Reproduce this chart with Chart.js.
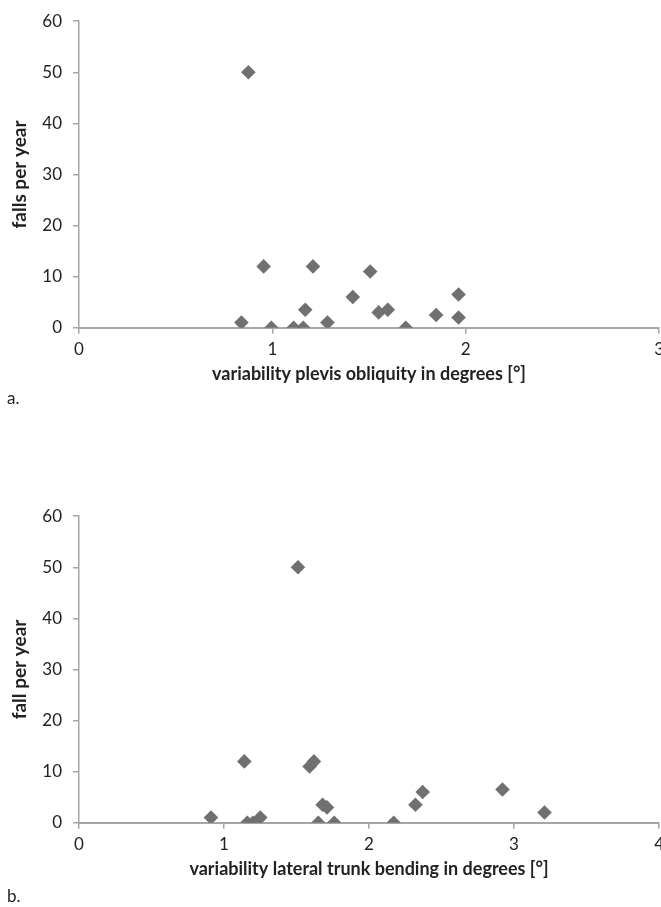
<!DOCTYPE html>
<html>
<head>
<meta charset="utf-8">
<script src="https://cdn.jsdelivr.net/npm/chart.js@4.4.0/dist/chart.umd.min.js"></script>
<style>
  html, body { margin: 0; padding: 0; background: #fff; overflow: hidden; }
  body { width: 661px; height: 907px; position: relative; }
  .box { position: absolute; left: 0; width: 670px; height: 395px; }
  .tag { position: absolute; left: 7px; font: 17px Lato, "Open Sans", sans-serif; color: #222; }
</style>
</head>
<body>
<div class="box" style="top:0"><canvas id="chart-a" width="670" height="395"></canvas></div>
<div class="tag" style="top:387px">a.</div>
<div class="box" style="top:495px"><canvas id="chart-b" width="670" height="395"></canvas></div>
<div class="tag" style="top:885px">b.</div>
<script>
// a. 骨盆倾斜
const pelvisX = [0.876, 0.955, 0.84, 0.995, 1.11, 1.16, 1.17, 1.21, 1.285, 1.416, 1.506, 1.55, 1.597, 1.69, 1.847, 1.963, 1.963];
const pelvisY = [50, 12, 1, 0, 0, 0, 3.5, 12, 1, 6, 11, 3, 3.5, 0, 2.5, 2, 6.5];

// b. 躯干侧弯
const trunkX = [0.91, 1.14, 1.16, 1.2, 1.25, 1.51, 1.59, 1.62, 1.65, 1.68, 1.71, 1.76, 2.17, 2.32, 2.37, 2.92, 3.21];
const trunkY = [1, 12, 0, 0, 1, 50, 11, 12, 0, 3.5, 3, 0, 0, 3.5, 6, 6.5, 2];

// 坐标轴刻度
const yTicks = [0, 10, 20, 30, 40, 50, 60];
const xMaxA = 3;
const xMaxB = 4;

const axisColor = '#a6a6a6';
const textColor = '#222';
const markColor = '#707070';

function toPoints(xs, ys) {
  return xs.map((x, i) => ({ x: x, y: ys[i] }));
}

function drawScatter(id, points, xMax, xTitle, yTitle) {
  const ctx = document.getElementById(id).getContext('2d');
  return new Chart(ctx, {
    type: 'scatter',
    data: {
      datasets: [{
        data: points,
        pointStyle: 'rectRot',
        pointRadius: 7.3,
        pointHoverRadius: 7.3,
        backgroundColor: markColor,
        borderWidth: 0
      }]
    },
    options: {
      responsive: false,
      animation: false,
      layout: { padding: { top: 20, right: 5, left: 0, bottom: 0 } },
      plugins: { legend: { display: false }, tooltip: { enabled: false } },
      scales: {
        x: {
          type: 'linear',
          min: 0,
          max: xMax,
          afterFit: scale => { scale.height = 67.3; },
          ticks: { stepSize: 1, padding: 6, color: textColor, font: { family: 'Lato', size: 17 } },
          grid: { drawOnChartArea: false, drawTicks: true, tickLength: 6, color: axisColor, lineWidth: 1.5 },
          border: { color: axisColor, width: 2 },
          title: {
            display: true,
            text: xTitle,
            color: textColor,
            font: { family: 'Lato', size: 18, weight: 'bold' },
            padding: { top: 0, bottom: 10 }
          }
        },
        y: {
          min: 0,
          max: 60,
          afterFit: scale => { scale.width = 79; },
          afterBuildTicks: scale => { scale.ticks = yTicks.map(v => ({ value: v })); },
          ticks: { padding: 11, color: textColor, font: { family: 'Lato', size: 17 } },
          grid: { drawOnChartArea: false, drawTicks: true, tickLength: 6, color: axisColor, lineWidth: 1.5 },
          border: { color: axisColor, width: 1.5 },
          title: {
            display: true,
            text: yTitle,
            color: textColor,
            font: { family: 'Lato', size: 19, weight: 'bold' },
            padding: { top: 8, bottom: 0 }
          }
        }
      }
    }
  });
}

drawScatter('chart-a', toPoints(pelvisX, pelvisY), xMaxA,
  'variability plevis obliquity in degrees [°]', 'falls per year');
drawScatter('chart-b', toPoints(trunkX, trunkY), xMaxB,
  'variability lateral trunk bending in degrees [°]', 'fall per year');
</script>
</body>
</html>
